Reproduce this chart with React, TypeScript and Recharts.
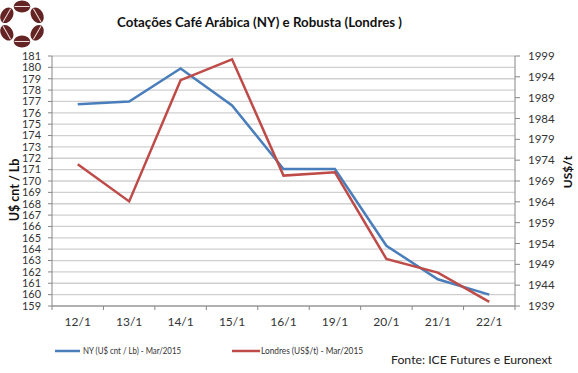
import React from 'react';
import { LineChart, Line, XAxis, YAxis, CartesianGrid } from 'recharts';

const categories = ['12/1', '13/1', '14/1', '15/1', '16/1', '19/1', '20/1', '21/1', '22/1'];
const nyValues = [176.75, 177.0, 179.9, 176.65, 171.05, 171.05, 164.3, 161.35, 160.0];
const londresValues = [1973.0, 1964.1, 1993.2, 1998.2, 1970.3, 1971.1, 1950.3, 1947.0, 1940.0];
const leftTicks = [159, 160, 161, 162, 163, 164, 165, 166, 167, 168, 169, 170, 171, 172, 173, 174, 175, 176, 177, 178, 179, 180, 181];
const rightTicks = [1939, 1944, 1949, 1954, 1959, 1964, 1969, 1974, 1979, 1984, 1989, 1994, 1999];
const seriesNames = ['NY (U$ cnt / Lb) - Mar/2015', 'Londres (US$/t) - Mar/2015'];

const data = categories.map((c, i) => ({ cat: c, ny: nyValues[i], londres: londresValues[i] }));

const W = 578;
const H = 373;
const PLOT_LEFT = 52;
const PLOT_RIGHT = 515;
const TOP = 56;
const BOTTOM = 306;
const BAND = (PLOT_RIGHT - PLOT_LEFT) / categories.length;
const AXIS = '#868686';
const FONT = 'Lato, "Open Sans", sans-serif';
const BLUE = '#4A7EBB';
const RED = '#BE4B48';

const XTick = (props: any) => {
  const { x, payload, index } = props;
  const half = BAND / 2;
  return (
    <g>
      <line x1={x - half} x2={x - half} y1={BOTTOM} y2={BOTTOM + 4} stroke={AXIS} />
      {index === categories.length - 1 && (
        <line x1={x + half} x2={x + half} y1={BOTTOM} y2={BOTTOM + 4} stroke={AXIS} />
      )}
      <text x={x} y={BOTTOM + 20} textAnchor="middle" fontSize={12} fill="#333" fontFamily={FONT}>
        {payload.value}
      </text>
    </g>
  );
};

const LeftTick = (props: any) => {
  const { y, payload } = props;
  return (
    <text
      x={PLOT_LEFT - 11}
      y={y + 3.8}
      textAnchor="end"
      fontSize={10.5}
      fill="#333"
      fontFamily={FONT}
      textLength={19}
      lengthAdjust="spacingAndGlyphs"
    >
      {payload.value}
    </text>
  );
};

const Bean = ({ cx, cy, angle }: { cx: number; cy: number; angle: number }) => (
  <g transform={`translate(${cx},${cy}) rotate(${angle})`}>
    <ellipse cx={0} cy={0} rx={8.3} ry={6} fill="#642424" />
    <line x1={-7.5} x2={7.5} y1={0} y2={0} stroke="#f2dede" strokeWidth={1} />
  </g>
);

const Logo = () => {
  const cx = 22;
  const cy = 24;
  const r = 17.5;
  const angles = [-90, -30, 30, 90, 150, 210];
  return (
    <g>
      {angles.map((a) => {
        const rad = (a * Math.PI) / 180;
        return <Bean key={a} cx={cx + r * Math.cos(rad)} cy={cy + r * Math.sin(rad)} angle={a + 90} />;
      })}
    </g>
  );
};

export default function App() {
  return (
    <div style={{ position: 'absolute', left: 0, top: 0, width: W, height: H, background: '#fff' }}>
      <LineChart
        width={W}
        height={H}
        data={data}
        margin={{ top: TOP, bottom: H - BOTTOM - 30, left: 0, right: 0 }}
      >
        <CartesianGrid
          yAxisId="left"
          vertical={false}
          horizontal
          stroke="#d0d0d0"
          strokeWidth={1.3}
        />
        <XAxis
          dataKey="cat"
          height={30}
          interval={0}
          tickLine={false}
          axisLine={{ stroke: AXIS }}
          padding={{ left: BAND / 2, right: BAND / 2 }}
          tick={<XTick />}
        />
        <YAxis
          yAxisId="left"
          orientation="left"
          width={PLOT_LEFT}
          domain={[159, 181]}
          ticks={leftTicks}
          interval={0}
          tickSize={4}
          tickMargin={6}
          axisLine={{ stroke: AXIS }}
          tickLine={{ stroke: AXIS }}
          tick={<LeftTick />}
        />
        <YAxis
          yAxisId="right"
          orientation="right"
          width={W - PLOT_RIGHT}
          domain={[1939, 1999]}
          ticks={rightTicks}
          interval={0}
          tickSize={5}
          tickMargin={8}
          axisLine={{ stroke: AXIS }}
          tickLine={{ stroke: AXIS }}
          tick={{ fontSize: 11.5, fill: '#333', fontFamily: FONT }}
        />
        <Line
          yAxisId="left"
          dataKey="ny"
          stroke={BLUE}
          strokeWidth={2.5}
          dot={false}
          isAnimationActive={false}
        />
        <Line
          yAxisId="right"
          dataKey="londres"
          stroke={RED}
          strokeWidth={2.5}
          dot={false}
          isAnimationActive={false}
        />
      </LineChart>
      <svg
        width={W}
        height={H}
        style={{ position: 'absolute', left: 0, top: 0, pointerEvents: 'none' }}
      >
        <Logo />
        <text
          x={117}
          y={27}
          fontSize={14}
          fontWeight={700}
          fill="#111"
          fontFamily={FONT}
          textLength={285}
          lengthAdjust="spacingAndGlyphs"
        >
          Cotações Café Arábica (NY) e Robusta (Londres )
        </text>
        <text
          transform="translate(19,190) rotate(-90)"
          textAnchor="middle"
          fontSize={12.5}
          fontWeight={700}
          fill="#111"
          fontFamily={FONT}
        >
          U$ cnt  / Lb
        </text>
        <text
          transform="translate(572,172) rotate(-90)"
          textAnchor="middle"
          fontSize={12}
          fontWeight={700}
          fill="#111"
          fontFamily={FONT}
        >
          US$/t
        </text>
        <line x1={55} x2={80} y1={351} y2={351} stroke={BLUE} strokeWidth={2.5} />
        <text x={83} y={354} fontSize={8.5} fill="#333" fontFamily={FONT} textLength={98} lengthAdjust="spacingAndGlyphs">
          {seriesNames[0]}
        </text>
        <line x1={232} x2={260} y1={351} y2={351} stroke={RED} strokeWidth={2.5} />
        <text x={261} y={354} fontSize={8.5} fill="#333" fontFamily={FONT} textLength={102} lengthAdjust="spacingAndGlyphs">
          {seriesNames[1]}
        </text>
        <text x={391} y={364} fontSize={12} fill="#222" fontFamily={FONT} textLength={161} lengthAdjust="spacingAndGlyphs">
          Fonte: ICE  Futures e Euronext
        </text>
      </svg>
    </div>
  );
}
